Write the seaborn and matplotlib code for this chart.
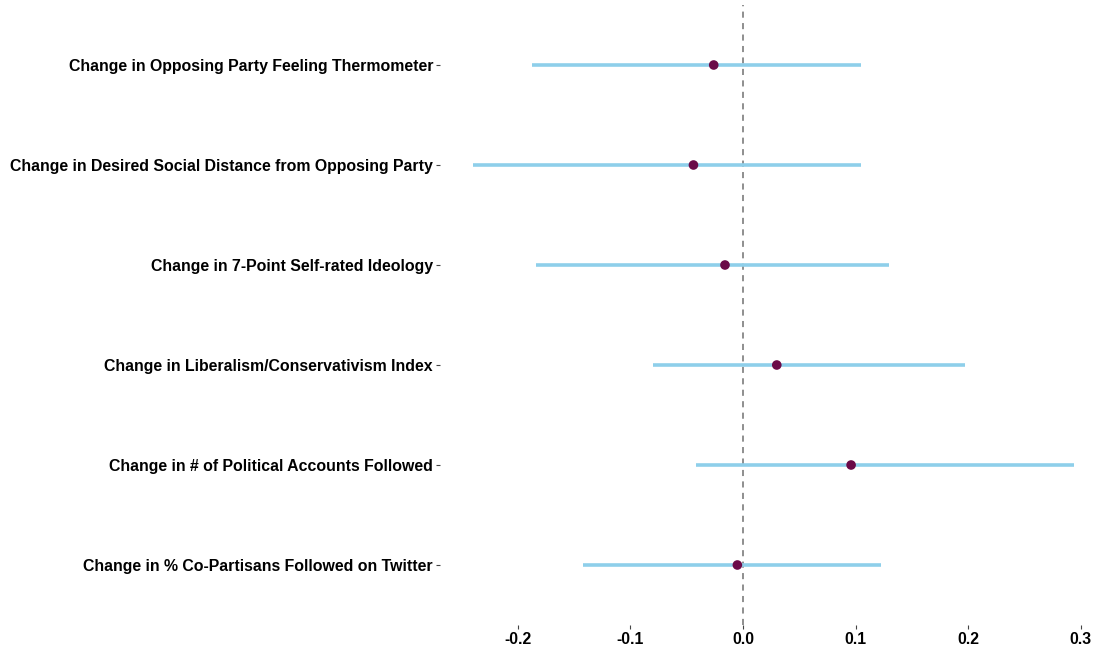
import matplotlib
matplotlib.use("Agg")
import matplotlib.pyplot as plt
import seaborn as sns
import pandas as pd

labels = [
    "Change in Opposing Party Feeling Thermometer",
    "Change in Desired Social Distance from Opposing Party",
    "Change in 7-Point Self-rated Ideology",
    "Change in Liberalism/Conservativism Index",
    "Change in # of Political Accounts Followed",
    "Change in % Co-Partisans Followed on Twitter",
]
estimates = [-0.026, -0.044, -0.016, 0.030, 0.096, -0.005]
ci_low = [-0.187, -0.240, -0.184, -0.080, -0.042, -0.142]
ci_high = [0.105, 0.105, 0.130, 0.197, 0.294, 0.123]
x_ticks = [-0.2, -0.1, 0.0, 0.1, 0.2, 0.3]

df = pd.DataFrame({"label": labels, "est": estimates, "lo": ci_low, "hi": ci_high})
df["pos"] = range(len(df))

sns.set_theme(style="white")
plt.rcParams["font.family"] = ["Liberation Sans", "DejaVu Sans"]

W, H = 1094, 651
fig = plt.figure(figsize=(W / 100, H / 100), dpi=100)
ax = fig.add_axes([440 / W, 1 - 625 / H, (1094 - 440) / W, 620 / H])

ax.axvline(0, color="#707070", linestyle=(0, (4, 3.5)), linewidth=1.1, zorder=1)
ax.hlines(df["pos"], df["lo"], df["hi"], color="#8ECFEA", linewidth=2.6, zorder=2)
sns.scatterplot(data=df, x="est", y="pos", color="#6B0A48", s=48, edgecolor="none",
                zorder=3, ax=ax, legend=False)

ax.set_xlim((440 - 743) / 1126, (1094 - 743) / 1126)
ax.set_ylim(5.6, -0.6)
ax.set_yticks(df["pos"])
ax.set_yticklabels(df["label"])
ax.set_xticks(x_ticks)
ax.set_xticklabels([f"{t:.1f}" for t in x_ticks])
ax.set_xlabel("")
ax.set_ylabel("")
for s in ax.spines.values():
    s.set_visible(False)
ax.tick_params(axis="both", which="both", length=3, width=0.8, color="#444444",
               labelsize=11.4, labelcolor="black", pad=2, left=True, bottom=True)
for t in ax.get_yticklabels() + ax.get_xticklabels():
    t.set_fontweight("bold")
ax.grid(False)

fig.savefig("out.png", dpi=100)
